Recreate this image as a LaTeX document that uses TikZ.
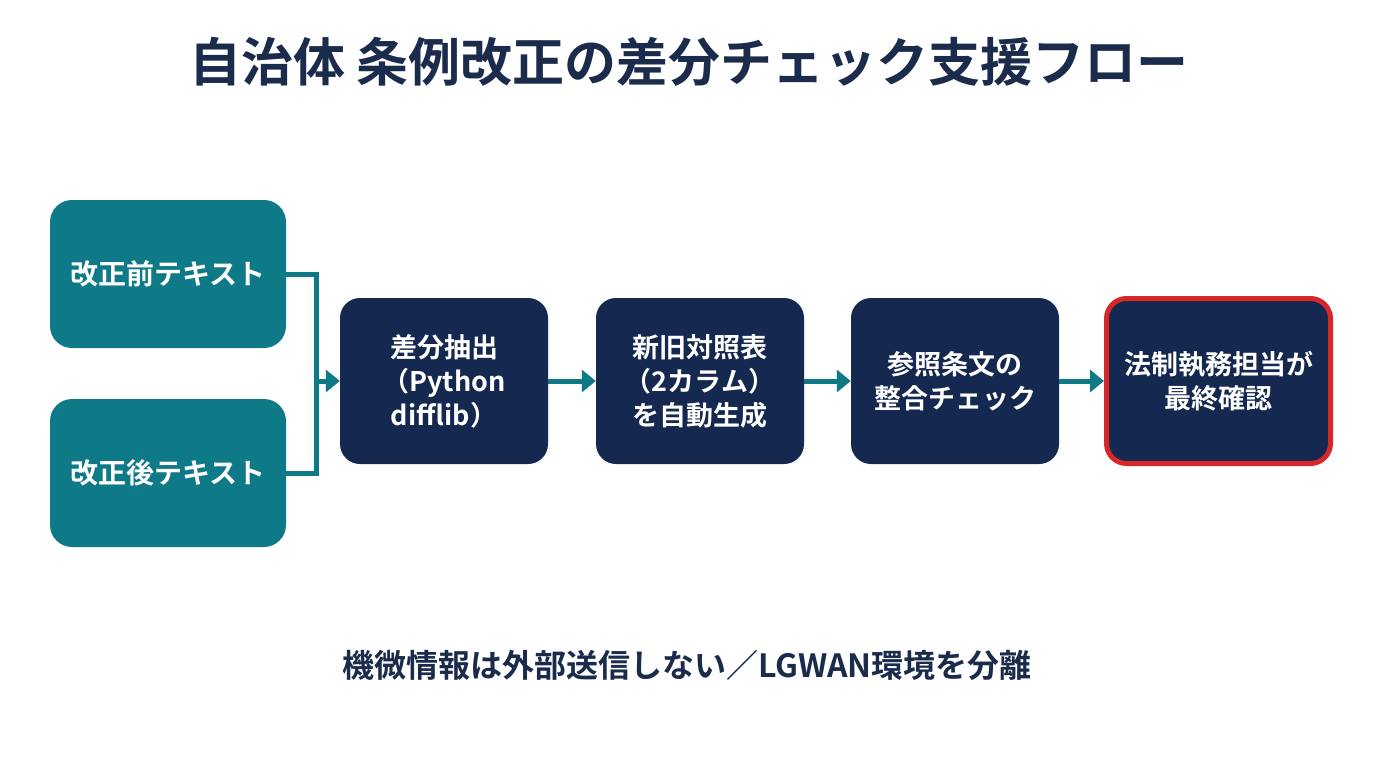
\documentclass[tikz,border=0pt]{standalone}
\usepackage{fontspec}
\setmainfont{Noto Sans CJK JP}[BoldFont={Noto Sans CJK JP Bold}]
\usetikzlibrary{arrows.meta}
\definecolor{navy}{HTML}{15284F}
\definecolor{teal2}{HTML}{0F7A87}
\definecolor{redb}{HTML}{D62828}
\definecolor{ink}{HTML}{1A2B4C}
\tikzset{
  srcbox/.style={fill=teal2, rounded corners=22pt, minimum width=236pt, minimum height=148pt, text=white, font=\bfseries\fontsize{28pt}{34pt}\selectfont, align=center, inner sep=0pt},
  procbox/.style={fill=navy, rounded corners=20pt, minimum width=208pt, minimum height=166pt, text=white, font=\bfseries\fontsize{27pt}{34pt}\selectfont, align=center, inner sep=0pt},
  finalbox/.style={procbox, draw=redb, line width=5pt, minimum width=224pt, minimum height=165pt},
  conn/.style={draw=teal2, line width=5pt},
  arr/.style={conn, -{Triangle[length=14pt,width=22pt]}},
}
\begin{document}
\begin{tikzpicture}[x=1pt,y=-1pt]
\useasboundingbox (0,0) rectangle (1376,768);
\node[font=\bfseries\fontsize{52pt}{60pt}\selectfont, text=ink] (title) at (689,62) {自治体 条例改正の差分チェック支援フロー};
\node[srcbox] (pre) at (168,274) {改正前テキスト};
\node[srcbox] (post) at (168,473) {改正後テキスト};
\node[procbox] (diff) at (444,381) {差分抽出\\（Python\\difflib）};
\node[procbox] (table) at (700,381) {新旧対照表\\（2カラム）\\を自動生成};
\node[procbox] (ref) at (955,381) {参照条文の\\整合チェック};
\node[finalbox] (final) at (1218.5,381) {法制執務担当が\\最終確認};
\coordinate (j) at (316,381);
\draw[conn] (pre.east) -| (j);
\draw[conn] (post.east) -| (j);
\draw[arr] ([xshift=-2.5pt]j) -- (diff.west);
\draw[arr] (diff.east) -- (table.west);
\draw[arr] (table.east) -- (ref.west);
\draw[arr] (ref.east) -- (final.west);
\node[font=\bfseries\fontsize{32pt}{38pt}\selectfont, text=ink] (note) at (687,665) {機微情報は外部送信しない／LGWAN環境を分離};
\end{tikzpicture}
\end{document}
